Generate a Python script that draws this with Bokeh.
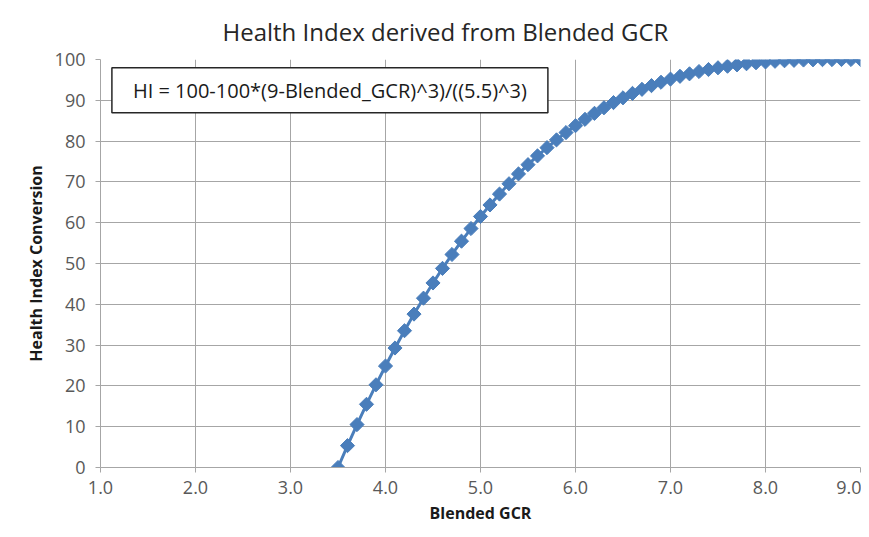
import math
from bokeh.plotting import figure
from bokeh.models import ColumnDataSource, Label, FixedTicker, NumeralTickFormatter, Range1d, Title
from bokeh.embed import file_html
from bokeh.resources import INLINE

gcr = [3.5, 3.6, 3.7, 3.8, 3.9, 4.0, 4.1, 4.2, 4.3, 4.4, 4.5, 4.6, 4.7, 4.8, 4.9,
       5.0, 5.1, 5.2, 5.3, 5.4, 5.5, 5.6, 5.7, 5.8, 5.9, 6.0, 6.1, 6.2, 6.3, 6.4,
       6.5, 6.6, 6.7, 6.8, 6.9, 7.0, 7.1, 7.2, 7.3, 7.4, 7.5, 7.6, 7.7, 7.8, 7.9,
       8.0, 8.1, 8.2, 8.3, 8.4, 8.5, 8.6, 8.7, 8.8, 8.9, 9.0]
hi = [0.0, 5.36, 10.52, 15.49, 20.27, 24.87, 29.29, 33.53, 37.60, 41.50, 45.23,
      48.80, 52.21, 55.47, 58.57, 61.53, 64.35, 67.02, 69.55, 71.96, 74.23, 76.38,
      78.40, 80.30, 82.09, 83.77, 85.34, 86.81, 88.17, 89.44, 90.61, 91.69, 92.69,
      93.60, 94.43, 95.19, 95.88, 96.49, 97.05, 97.54, 97.97, 98.35, 98.68, 98.96,
      99.20, 99.40, 99.56, 99.69, 99.79, 99.87, 99.92, 99.96, 99.98, 99.995, 100.0, 100.0]
x_ticks = [1, 2, 3, 4, 5, 6, 7, 8, 9]
y_ticks = [0, 10, 20, 30, 40, 50, 60, 70, 80, 90, 100]

title_text = "Health Index derived from Blended GCR"
formula_text = "HI = 100-100*(9-Blended_GCR)^3)/((5.5)^3)"
x_label = "Blended GCR"
y_label = "Health Index Conversion"

src = ColumnDataSource(dict(x=gcr, y=hi))

p = figure(width=861, height=529, output_backend="svg", toolbar_location=None,
           x_range=Range1d(1, 9), y_range=Range1d(0, 100),
           min_border_left=100, min_border_right=1, min_border_top=59, min_border_bottom=62)

p.title = Title(text=title_text, align="left", offset=122, text_font="Open Sans",
                text_font_style="normal", text_font_size="24px", text_color="#262626",
                text_line_height=0.5, standoff=24)

p.line("x", "y", source=src, line_color="#4A7EBB", line_width=3)
p.scatter("x", "y", source=src, marker="square", angle=math.pi / 4, size=10,
          fill_color="#4A7EBB", line_color="#4A7EBB")

for ax in (p.xaxis[0], p.yaxis[0]):
    ax.axis_line_color = "#A6A6A6"
    ax.major_tick_line_color = "#A6A6A6"
    ax.major_tick_out = 5
    ax.major_tick_in = 0
    ax.minor_tick_line_color = None
    ax.major_label_text_font = "Open Sans"
    ax.major_label_text_font_size = "18px"
    ax.major_label_text_color = "#595959"
    ax.axis_label_text_font = "Open Sans"
    ax.axis_label_text_font_style = "bold"
    ax.axis_label_text_font_size = "16px"
    ax.axis_label_text_color = "#1a1a1a"

p.xaxis.ticker = FixedTicker(ticks=x_ticks)
p.yaxis.ticker = FixedTicker(ticks=y_ticks)
p.xaxis.formatter = NumeralTickFormatter(format="0.0")
p.xaxis.axis_label = x_label
p.yaxis.axis_label = y_label
p.xaxis.major_label_standoff = 8
p.yaxis.major_label_standoff = 10

p.xgrid.ticker = FixedTicker(ticks=x_ticks)
p.ygrid.ticker = FixedTicker(ticks=y_ticks)
p.grid.grid_line_color = "#A6A6A6"
p.grid.grid_line_width = 1
p.outline_line_color = None

lab = Label(x=1.12, y=98.0, text=formula_text, anchor="top_left",
            text_font="Open Sans", text_font_size="20px", text_color="#1a1a1a",
            padding=(21, 9), border_line_color="#262626", border_line_width=1.5,
            background_fill_color="white", background_fill_alpha=1.0)
p.add_layout(lab)

open("out.html", "w").write(file_html(p, INLINE))
